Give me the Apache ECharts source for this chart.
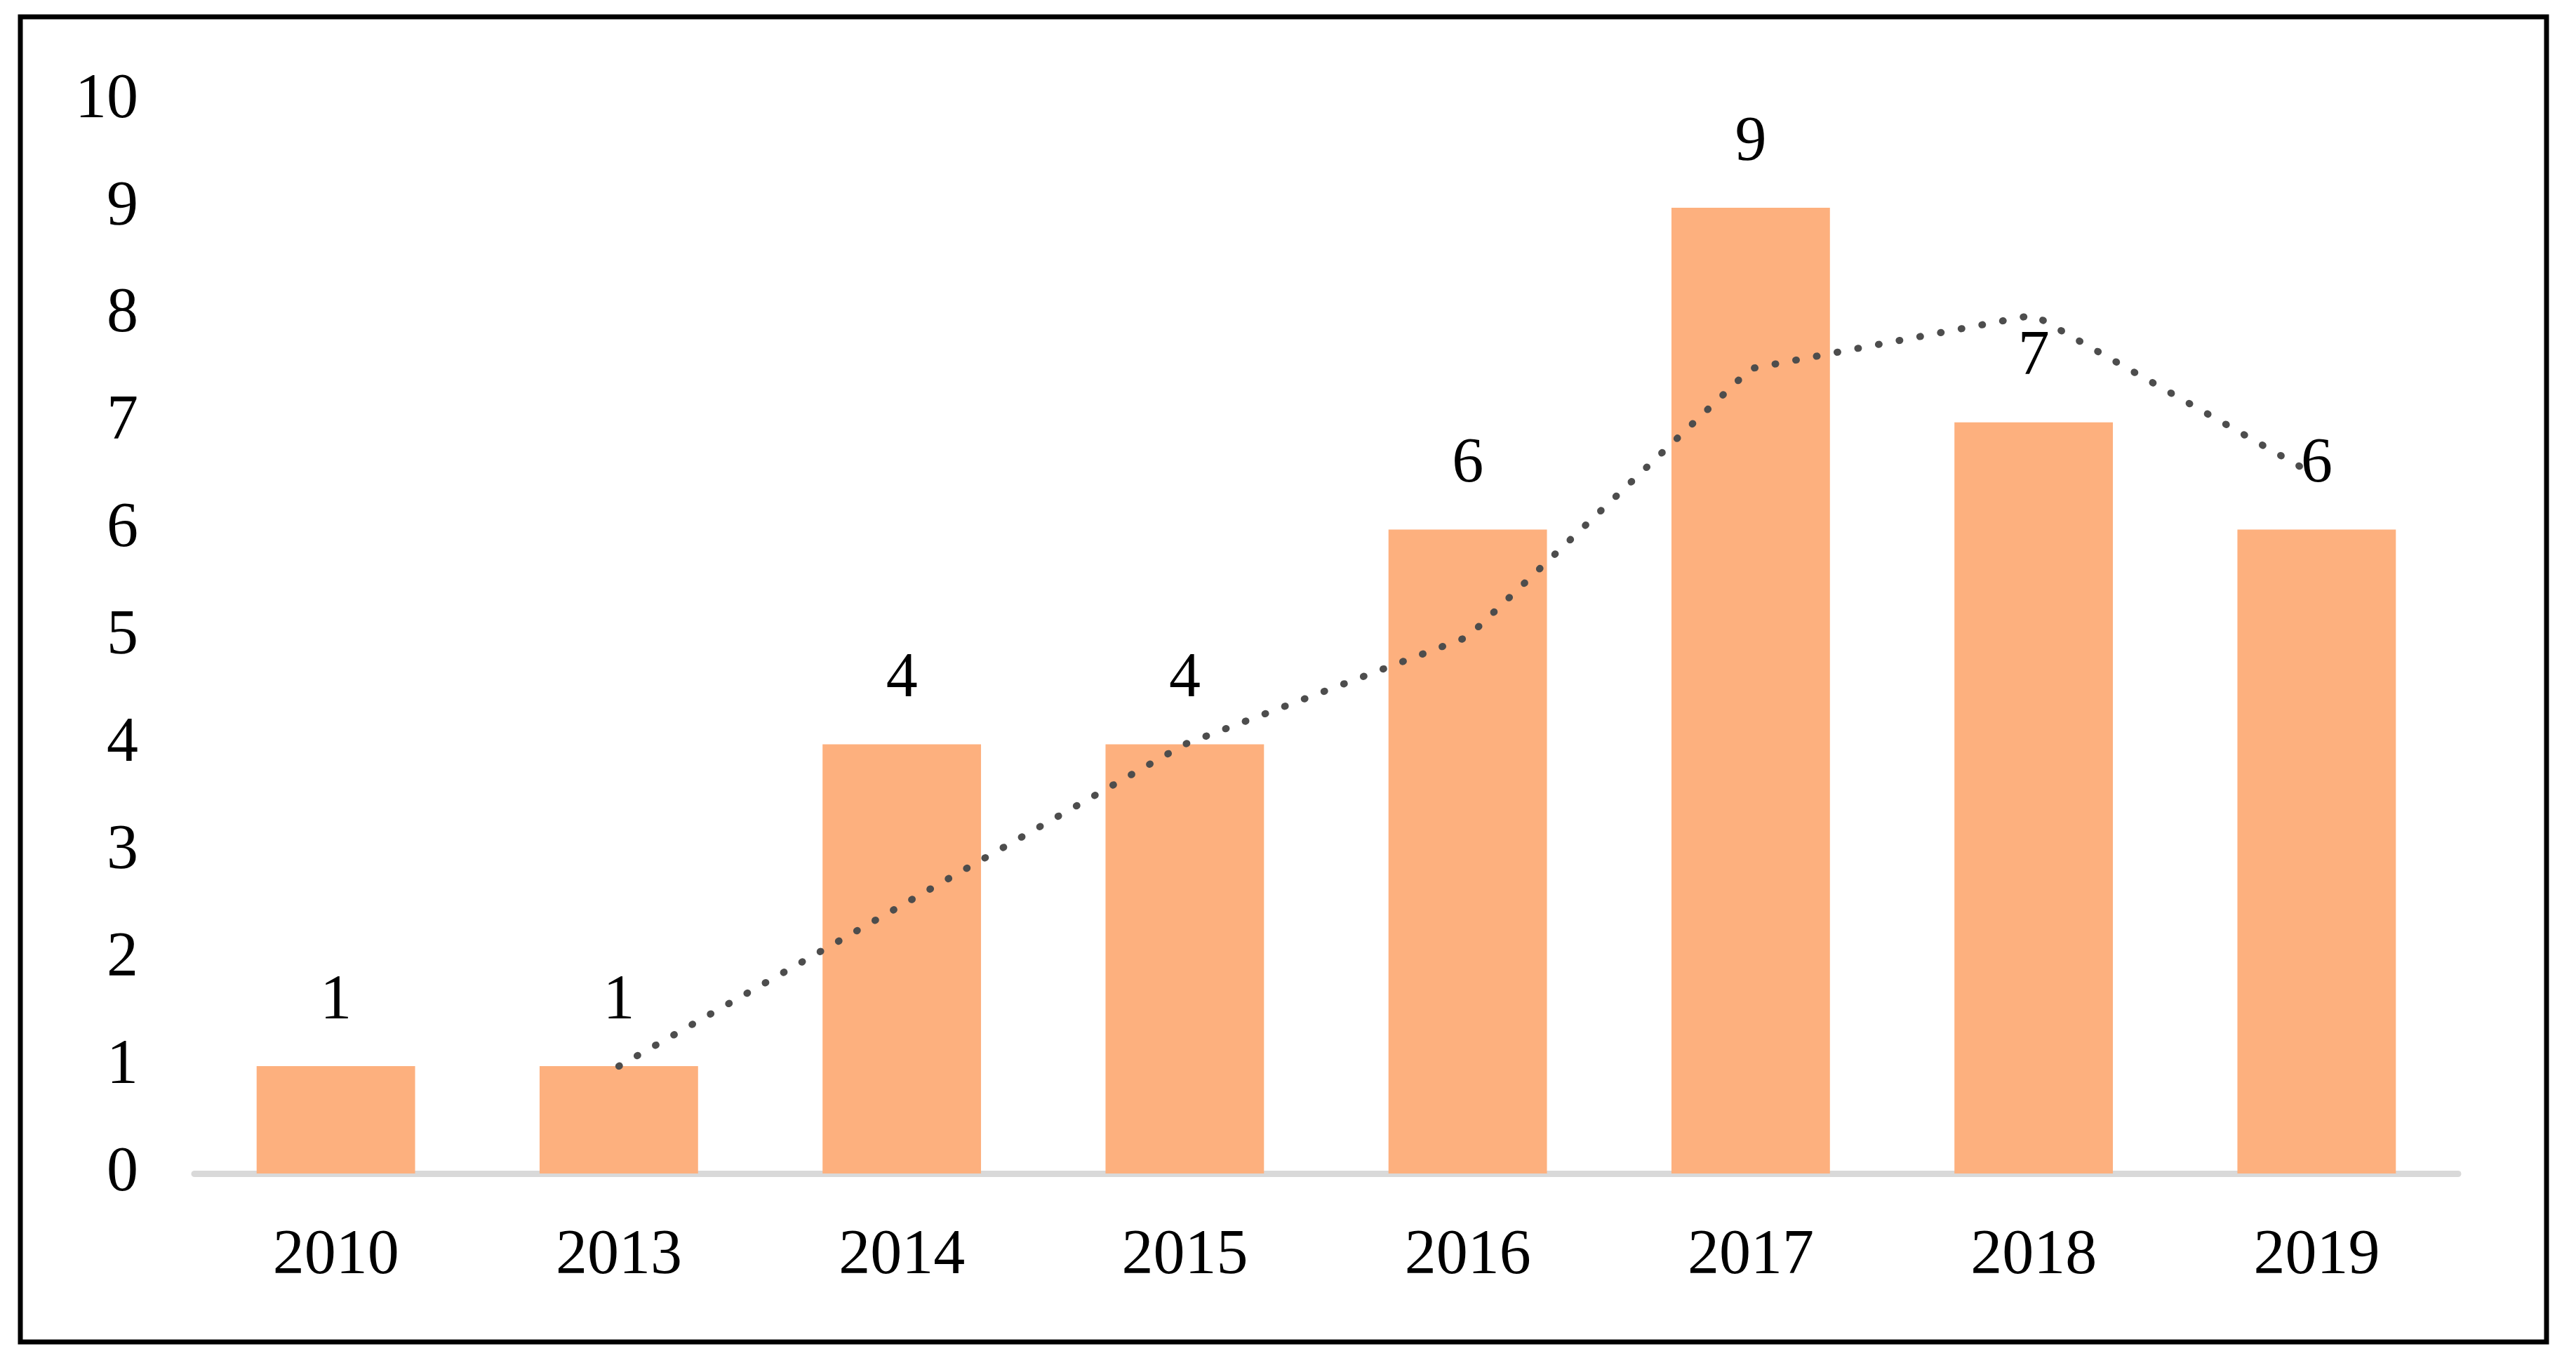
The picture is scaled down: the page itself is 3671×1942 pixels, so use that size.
<!DOCTYPE html>
<html>
<head>
<meta charset="utf-8">
<script src="https://cdn.jsdelivr.net/npm/echarts@6/dist/echarts.min.js"></script>
<style>
html, body { margin: 0; padding: 0; background: #fff; }
#chart { width: 3671px; height: 1942px; }
</style>
</head>
<body>
<div id="chart"></div>
<script>
var years = ['2010', '2013', '2014', '2015', '2016', '2017', '2018', '2019'];
var counts = [1, 1, 4, 4, 6, 9, 7, 6];
// dotted trend line
var trend = [null, 1, 2.5, 4, 5, 7.5, 8, 6.5];
var yTicks = [0, 10, 1];

var chartDom = document.getElementById('chart');
var myChart = echarts.init(chartDom);
var font = "'Liberation Serif', 'Times New Roman', serif";

var option = {
    animation: false,
    backgroundColor: '#fff',
    grid: {
        left: 277,
        right: 168,
        top: 143,
        bottom: 270
    },
    graphic: [
        {
            type: 'rect',
            shape: { x: 29, y: 24, width: 3600, height: 1888 },
            style: { fill: 'none', stroke: '#000', lineWidth: 7 }
        }
    ],
    xAxis: {
        type: 'category',
        data: years,
        axisLine: { lineStyle: { color: '#d9d9d9', width: 9 } },
        axisTick: { show: false },
        axisLabel: {
            margin: 73,
            color: '#000',
            fontFamily: font,
            fontSize: 90
        }
    },
    yAxis: {
        type: 'value',
        min: yTicks[0],
        max: yTicks[1],
        interval: yTicks[2],
        splitLine: { show: false },
        axisLine: { show: false },
        axisTick: { show: false },
        axisLabel: {
            margin: 80,
            padding: [14, 0, 0, 0],
            color: '#000',
            fontFamily: font,
            fontSize: 90
        }
    },
    series: [
        {
            type: 'bar',
            data: counts,
            barCategoryGap: '44%',
            itemStyle: { color: '#fdb07e' },
            label: {
                show: true,
                position: 'top',
                distance: 47,
                color: '#000',
                fontFamily: font,
                fontSize: 90
            }
        },
        {
            type: 'line',
            data: trend,
            symbol: 'none',
            lineStyle: {
                color: '#4d4d4d',
                width: 10,
                type: [1, 29],
                cap: 'round'
            }
        }
    ]
};

option && myChart.setOption(option);
</script>
</body>
</html>
